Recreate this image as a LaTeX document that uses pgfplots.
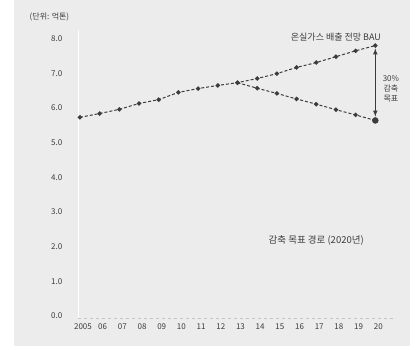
\documentclass[border=0pt]{standalone}
\usepackage{pgfplots}
\pgfplotsset{compat=1.18}
\usepackage{fontspec}
\setmainfont{Noto Sans CJK KR}
\definecolor{bg}{HTML}{ECECEC}
\definecolor{ln}{HTML}{3C3C3C}
\begin{document}
\begin{tikzpicture}[x=1pt,y=1pt]
\fill[white] (0,0) rectangle (420,350);
\fill[bg] (14,4) rectangle (410,350);
\useasboundingbox (0,0) rectangle (420,350);
\begin{axis}[
  at={(78pt,32pt)}, anchor=south west,
  scale only axis, width=317pt, height=288pt,
  xmin=2004.9, xmax=2021.0,
  ymin=-0.06, ymax=8.25,
  axis x line=bottom, axis y line=left,
  axis line style={draw=white, line width=0.8pt, -},
  x axis line style={draw=gray!45, dashed},
  ytick={0,1,...,8},
  yticklabel style={/pgf/number format/fixed, /pgf/number format/fixed zerofill, /pgf/number format/precision=1, xshift=-10pt},
  /pgf/number format/assume math mode=true,
  xtick={2005,...,2020},
  xticklabels={2005,06,07,08,09,10,11,12,13,14,15,16,17,18,19,20},
  xticklabel style={xshift=3pt},
  tick style={draw=none},
  ticklabel style={font=\fontsize{8}{9}\selectfont, text=ln},
  axis background/.style={fill=bg},
  clip=false,
]
\addplot[ln, densely dashed, line width=1pt, mark=*, mark size=1.7pt, mark options={solid, fill=ln}]
 coordinates {(2005,5.73)(2006,5.84)(2007,5.96)(2008,6.13)(2009,6.24)(2010,6.45)(2011,6.56)(2012,6.65)(2013,6.73)(2014,6.85)(2015,6.99)(2016,7.17)(2017,7.31)(2018,7.48)(2019,7.65)(2020,7.80)};
\addplot[ln, densely dashed, line width=1pt, mark=*, mark size=1.7pt, mark options={solid, fill=ln}]
 coordinates {(2013,6.73)(2014,6.57)(2015,6.42)(2016,6.26)(2017,6.11)(2018,5.95)(2019,5.80)(2020,5.64)};
\addplot[ln, only marks, mark=*, mark size=3pt] coordinates {(2020,5.64)};
\draw[ln, line width=1.1pt, <->, >=latex] (axis cs:2020,7.72) -- (axis cs:2020,5.75);
\node[font=\fontsize{9}{10}\selectfont, text=ln] at (axis cs:2018.0,8.05) {온실가스 배출 전망 BAU};
\node[font=\fontsize{8}{10}\selectfont, text=ln, align=center, anchor=west] at (axis cs:2020.2,6.55) {30\%\\감축\\목표};
\node[font=\fontsize{9.5}{10}\selectfont, text=ln] at (axis cs:2017.0,2.19) {감축 목표 경로 (2020년)};
\node[font=\fontsize{8}{9}\selectfont, text=ln] at (axis description cs:-0.09,1.045) {(단위: 억톤)};
\end{axis}
\end{tikzpicture}
\end{document}
